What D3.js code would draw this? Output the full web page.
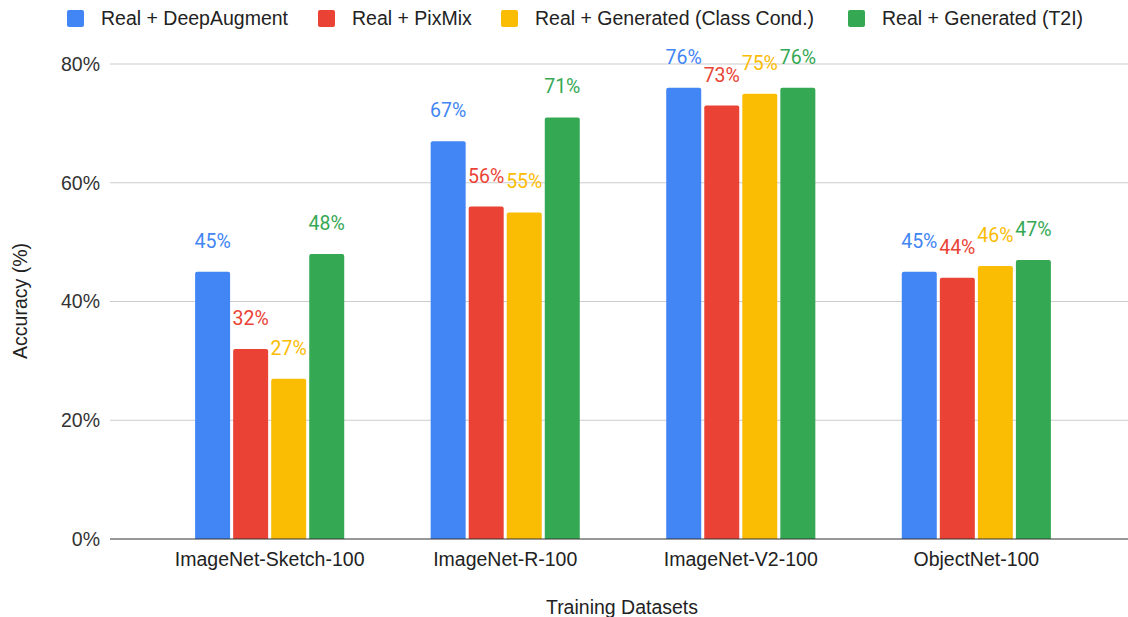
<!DOCTYPE html>
<html>
<head>
<meta charset="utf-8">
<script src="https://cdn.jsdelivr.net/npm/d3@7"></script>
<style>
  html, body { margin: 0; padding: 0; background: #fff; }
  svg { display: block; font-family: "Liberation Sans", Arial, sans-serif; }
</style>
</head>
<body>
<svg id="chart" width="1128" height="617"></svg>
<script>
// Datasets on the x axis
const categories = ["ImageNet-Sketch-100", "ImageNet-R-100", "ImageNet-V2-100", "ObjectNet-100"];
// Training setups (one bar per setup per dataset)
const seriesNames = ["Real + DeepAugment", "Real + PixMix", "Real + Generated (Class Cond.)", "Real + Generated (T2I)"];
const seriesColors = ["#4285F4", "#EA4335", "#FBBC04", "#34A853"];
// Accuracy in percent, one array per setup, in category order
const deepAugment = [45, 67, 76, 45];
const pixMix = [32, 56, 73, 44];
const genClassCond = [27, 55, 75, 46];
const genT2I = [48, 71, 76, 47];
const seriesValues = [deepAugment, pixMix, genClassCond, genT2I];
const yTicks = [0, 20, 40, 60, 80];

const svg = d3.select("#chart");
const plotLeft = 110, plotRight = 1128, plotTop = 64, plotBottom = 539;
const fs = 19.5;

const y = d3.scaleLinear().domain([0, 80]).range([plotBottom, plotTop]);
const x0 = d3.scaleBand().domain(categories).range([152, 1094]).paddingInner(0.367).paddingOuter(0.183);
const x1 = d3.scaleBand().domain(seriesNames).range([0, x0.bandwidth()]).paddingInner(0.08);

// Horizontal gridlines
svg.append("g").selectAll("line").data(yTicks.filter(t => t > 0)).join("line")
  .attr("x1", plotLeft).attr("x2", plotRight)
  .attr("y1", d => y(d)).attr("y2", d => y(d))
  .attr("stroke", "#cccccc").attr("stroke-width", 1);

// Y tick labels
const yAxis = d3.axisLeft(y).tickValues(yTicks).tickFormat(d => d + "%").tickSize(0).tickPadding(10);
const yg = svg.append("g").attr("transform", `translate(${plotLeft},0)`).call(yAxis);
yg.select(".domain").remove();
yg.selectAll("text").attr("font-size", fs).attr("fill", "#333").attr("font-family", "'Liberation Sans', Arial, sans-serif");

// Bars
const rows = [];
categories.forEach((c, ci) => seriesNames.forEach((s, si) => rows.push({ c, s, si, v: seriesValues[si][ci] })));

function topRounded(xp, yp, w, h, r) {
  return `M${xp},${yp + h}V${yp + r}Q${xp},${yp} ${xp + r},${yp}H${xp + w - r}Q${xp + w},${yp} ${xp + w},${yp + r}V${yp + h}Z`;
}

svg.append("g").selectAll("path").data(rows).join("path")
  .attr("d", d => topRounded(x0(d.c) + x1(d.s), y(d.v), x1.bandwidth(), plotBottom - y(d.v), 2))
  .attr("fill", d => seriesColors[d.si]);

// Value labels
svg.append("g").selectAll("text").data(rows).join("text")
  .attr("x", d => x0(d.c) + x1(d.s) + x1.bandwidth() / 2)
  .attr("y", d => y(d.v) - 24)
  .attr("text-anchor", "middle")
  .attr("font-family", "Roboto, sans-serif")
  .attr("font-size", fs)
  .attr("fill", d => seriesColors[d.si])
  .text(d => d.v + "%");

// Baseline
svg.append("line").attr("x1", plotLeft).attr("x2", plotRight)
  .attr("y1", plotBottom).attr("y2", plotBottom)
  .attr("stroke", "#333").attr("stroke-width", 1.2);

// X tick labels
const xAxis = d3.axisBottom(x0).tickSize(0).tickPadding(13);
const xg = svg.append("g").attr("transform", `translate(0,${plotBottom})`).call(xAxis);
xg.select(".domain").remove();
xg.selectAll("text").attr("font-size", fs).attr("fill", "#222").attr("font-family", "'Liberation Sans', Arial, sans-serif");

// Axis titles
svg.append("text").attr("x", 622).attr("y", 614).attr("text-anchor", "middle")
  .attr("font-size", fs).attr("fill", "#222").text("Training Datasets");
svg.append("text").attr("transform", "translate(27,301) rotate(-90)").attr("text-anchor", "middle")
  .attr("font-size", fs).attr("fill", "#222").text("Accuracy (%)");

// Legend
const legendX = [67, 318, 501, 848];
const lg = svg.append("g").selectAll("g").data(seriesNames).join("g")
  .attr("transform", (d, i) => `translate(${legendX[i]},10)`);
lg.append("rect").attr("width", 17).attr("height", 17).attr("rx", 2)
  .attr("fill", (d, i) => seriesColors[i]);
lg.append("text").attr("x", 34).attr("y", 15).attr("font-size", fs).attr("fill", "#222").text(d => d);
</script>
</body>
</html>
